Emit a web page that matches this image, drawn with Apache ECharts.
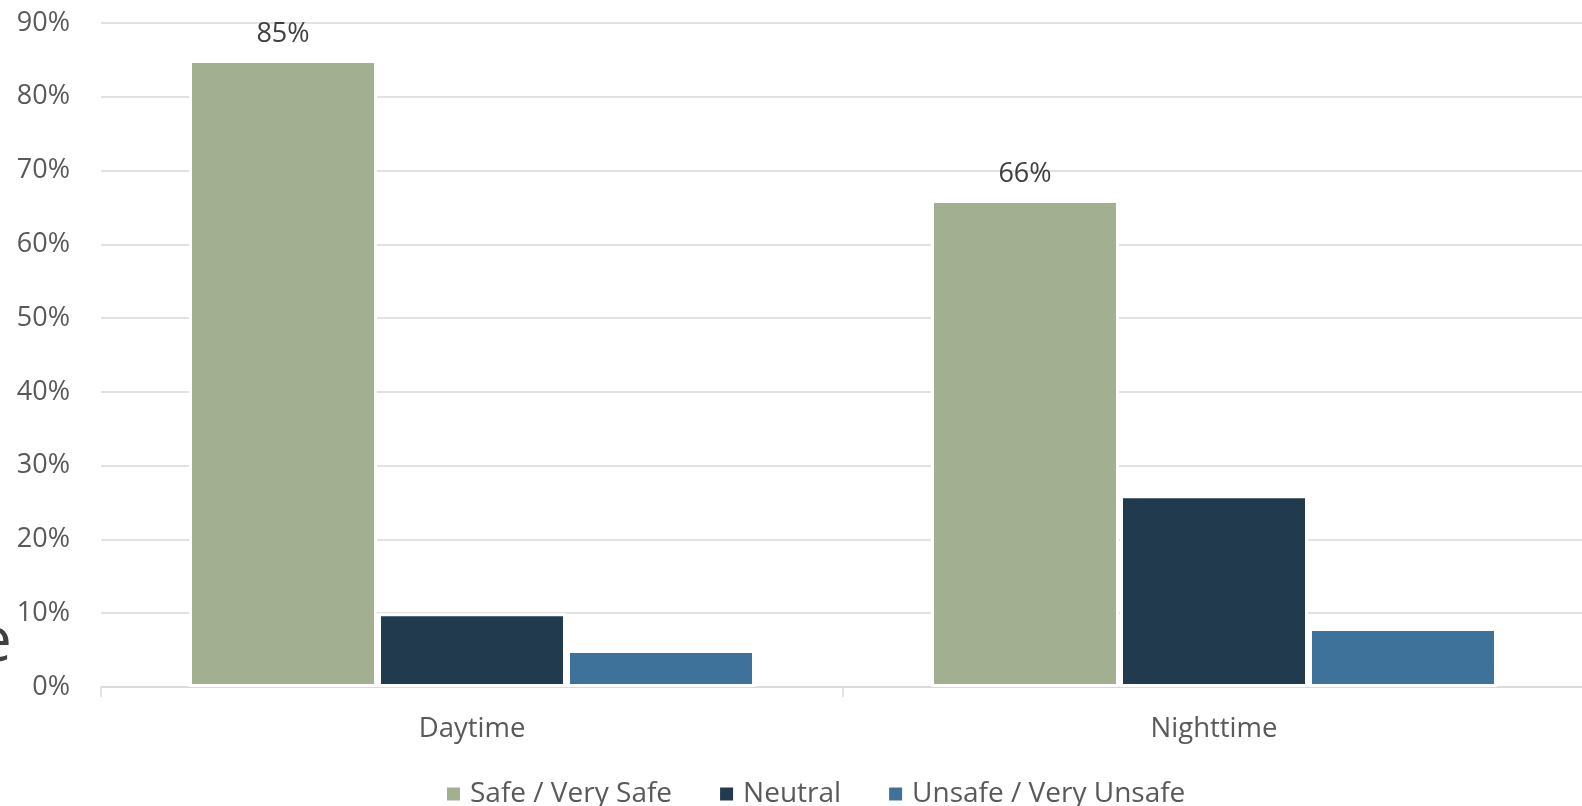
<!DOCTYPE html>
<html>
<head>
<meta charset="utf-8">
<script src="https://cdn.jsdelivr.net/npm/echarts@6/dist/echarts.min.js"></script>
<style>html,body{margin:0;padding:0;background:#fff;}#c{width:1582px;height:806px;}</style>
</head>
<body>
<div id="c"></div>
<script>
const categories = ['Daytime', 'Nighttime'];
const seriesNames = ['Safe / Very Safe', 'Neutral', 'Unsafe / Very Unsafe'];
const safeValues = [85, 66];
const neutralValues = [10, 26];
const unsafeValues = [5, 8];
const yTicks = [0, 10, 20, 30, 40, 50, 60, 70, 80, 90];

const colors = ['#A2AF91', '#213A4E', '#3E729A'];
const font = 'Open Sans';
const chart = echarts.init(document.getElementById('c'));
const valuesList = [safeValues, neutralValues, unsafeValues];

chart.setOption({
  animation: false,
  textStyle: { fontFamily: font },
  grid: { left: 101, width: 1484, top: 23, bottom: 119, containLabel: false, outerBoundsMode: 'none' },
  legend: {
    data: seriesNames,
    left: 445,
    top: 780,
    padding: 0,
    itemWidth: 15,
    itemHeight: 15,
    itemGap: 46,
    icon: 'rect',
    textStyle: { fontFamily: font, fontSize: 28, color: '#595959', padding: [0, 0, 0, 4] }
  },
  xAxis: {
    type: 'category',
    data: categories,
    axisLine: { lineStyle: { color: '#D9D9D9', width: 1.5 } },
    axisTick: { show: true, length: 10, lineStyle: { color: '#D9D9D9', width: 1.5 } },
    axisLabel: { fontFamily: font, fontSize: 27.5, color: '#595959', margin: 28 }
  },
  yAxis: {
    type: 'value',
    min: yTicks[0],
    max: yTicks[yTicks.length - 1],
    interval: 10,
    axisLine: { show: false },
    axisTick: { show: false },
    splitLine: { lineStyle: { color: '#D9D9D9', width: 1.5 } },
    axisLabel: { fontFamily: font, fontSize: 27, color: '#595959', margin: 31, formatter: v => v + '%' }
  },
  series: seriesNames.map((name, i) => ({
    name: name,
    type: 'bar',
    data: valuesList[i],
    barWidth: 188,
    barGap: '0.53%',
    itemStyle: { color: colors[i], borderColor: '#ffffff', borderWidth: 3 },
    label: i === 0 ? {
      show: true, position: 'top', distance: 12,
      fontFamily: font, fontSize: 27, color: '#404040',
      formatter: p => p.value + '%'
    } : { show: false }
  })),
  graphic: [{
    type: 'text',
    left: -23,
    top: 612,
    style: { text: 'e', font: '62px "Open Sans"', fill: '#404040' },
    silent: true
  }]
});
</script>
</body>
</html>
